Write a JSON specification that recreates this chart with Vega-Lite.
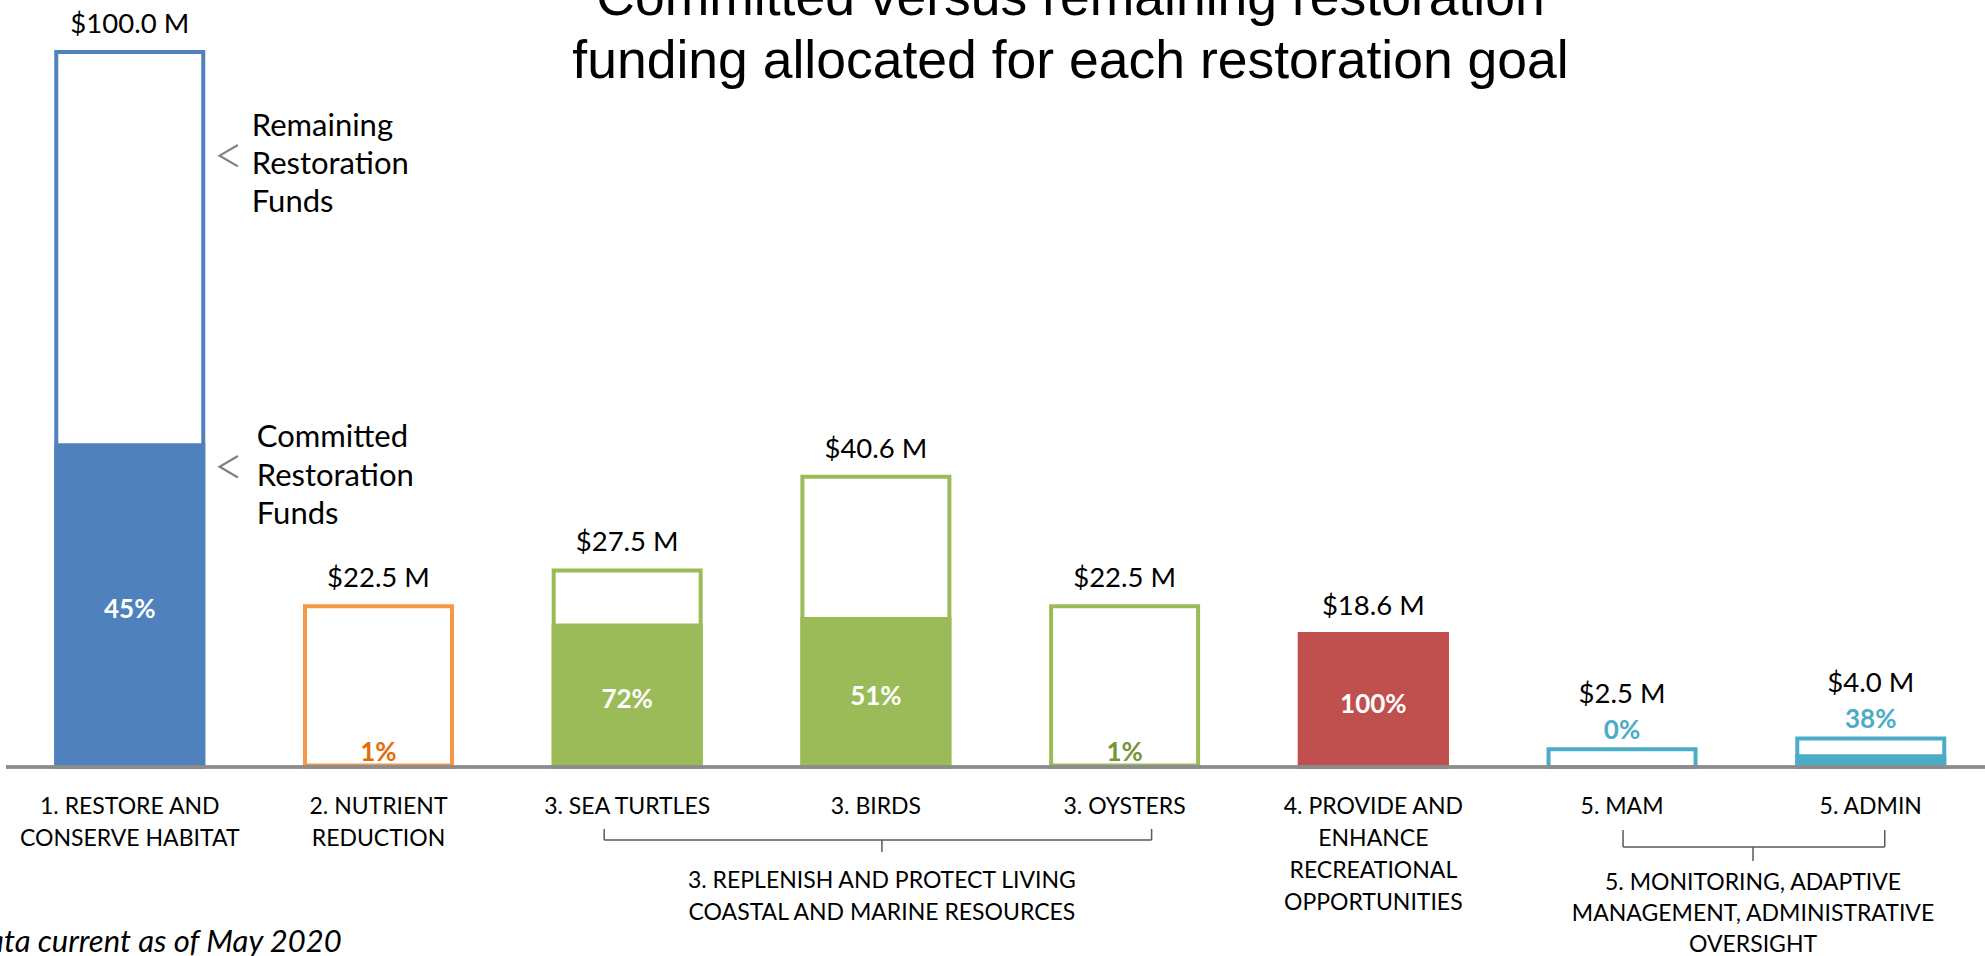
{
  "$schema": "https://vega.github.io/schema/vega-lite/v6.json",
  "autosize": {"type": "none"},
  "width": 1985,
  "height": 715,
  "padding": {"left": 0, "top": 52, "right": 0, "bottom": 189},
  "background": "white",
  "title": {
    "text": ["Committed versus remaining restoration", "funding allocated for each restoration goal"],
    "font": "Liberation Sans",
    "fontSize": 53.5,
    "fontWeight": "normal",
    "color": "#000000",
    "lineHeight": 63,
    "anchor": "middle",
    "dx": 78,
    "offset": -78
  },
  "config": {"view": {"stroke": null}, "font": "Lato"},
  "datasets": {
    "funds": [
      {"cat": "1. RESTORE AND\nCONSERVE HABITAT", "goal": "1", "total": 100.0, "committed": 45.0, "valueLabel": "$100.0 M", "pctLabel": "45%"},
      {"cat": "2. NUTRIENT\nREDUCTION", "goal": "2", "total": 22.5, "committed": 0.2, "valueLabel": "$22.5 M", "pctLabel": "1%"},
      {"cat": "3. SEA TURTLES", "goal": "3", "total": 27.5, "committed": 19.8, "valueLabel": "$27.5 M", "pctLabel": "72%"},
      {"cat": "3. BIRDS", "goal": "3", "total": 40.6, "committed": 20.7, "valueLabel": "$40.6 M", "pctLabel": "51%"},
      {"cat": "3. OYSTERS", "goal": "3", "total": 22.5, "committed": 0.2, "valueLabel": "$22.5 M", "pctLabel": "1%"},
      {"cat": "4. PROVIDE AND\nENHANCE\nRECREATIONAL\nOPPORTUNITIES", "goal": "4", "total": 18.6, "committed": 18.6, "valueLabel": "$18.6 M", "pctLabel": "100%"},
      {"cat": "5. MAM", "goal": "5", "total": 2.5, "committed": 0.0, "valueLabel": "$2.5 M", "pctLabel": "0%"},
      {"cat": "5. ADMIN", "goal": "5", "total": 4.0, "committed": 1.5, "valueLabel": "$4.0 M", "pctLabel": "38%"}
    ],
    "groups": [
      {"group": "3", "from": "3. SEA TURTLES", "to": "3. OYSTERS", "label": "3. REPLENISH AND PROTECT LIVING\nCOASTAL AND MARINE RESOURCES"},
      {"group": "5", "from": "5. MAM", "to": "5. ADMIN", "label": "5. MONITORING, ADAPTIVE\nMANAGEMENT, ADMINISTRATIVE\nOVERSIGHT"}
    ]
  },
  "data": {"name": "funds"},
  "encoding": {
    "x": {
      "field": "cat",
      "type": "nominal",
      "sort": null,
      "title": null,
      "scale": {
        "domain": ["1. RESTORE AND\nCONSERVE HABITAT", "2. NUTRIENT\nREDUCTION", "3. SEA TURTLES", "3. BIRDS", "3. OYSTERS", "4. PROVIDE AND\nENHANCE\nRECREATIONAL\nOPPORTUNITIES", "5. MAM", "5. ADMIN"],
        "paddingInner": 0.409,
        "paddingOuter": 0.195,
        "align": 0.58
      },
      "axis": {
        "title": null,
        "domain": false,
        "ticks": false,
        "labelAngle": 0,
        "labelFont": "Lato",
        "labelFontSize": 23,
        "labelColor": "#000000",
        "labelLineHeight": 32,
        "labelBaseline": "alphabetic",
        "labelPadding": 46,
        "labelLimit": 0,
        "labelOverlap": false,
        "labelExpr": "split(datum.label, '\\n')"
      }
    }
  },
  "layer": [
    {
      "mark": {"type": "bar", "fill": "white", "strokeWidth": 4},
      "encoding": {
        "y": {"field": "total", "type": "quantitative", "scale": {"domain": [0, 100], "nice": false, "zero": true}, "axis": null},
        "stroke": {"field": "goal", "type": "nominal", "legend": null,
          "scale": {"domain": ["1", "2", "3", "4", "5"], "range": ["#4F81BD", "#F79646", "#9BBB59", "#C0504D", "#4BACC6"]}}
      }
    },
    {
      "mark": {"type": "bar", "strokeWidth": 4},
      "encoding": {
        "y": {"field": "committed", "type": "quantitative"},
        "fill": {"field": "goal", "type": "nominal", "legend": null,
          "scale": {"domain": ["1", "2", "3", "4", "5"], "range": ["#4F81BD", "#F79646", "#9BBB59", "#C0504D", "#4BACC6"]}},
        "stroke": {"field": "goal", "type": "nominal", "legend": null}
      }
    },
    {
      "mark": {"type": "rule", "color": "#8c8c8c", "strokeWidth": 2.5},
      "encoding": {
        "x": {"value": 6},
        "x2": {"value": 1985},
        "y": {"datum": 0}
      }
    },
    {
      "transform": [{"filter": "datum.total >= 10"}],
      "mark": {"type": "text", "font": "Lato", "fontSize": 27.5, "color": "#000000", "baseline": "middle", "dy": -27},
      "encoding": {
        "y": {"field": "total", "type": "quantitative"},
        "text": {"field": "valueLabel"}
      }
    },
    {
      "transform": [{"filter": "datum.total < 10"}],
      "mark": {"type": "text", "font": "Lato", "fontSize": 27.5, "color": "#000000", "baseline": "middle", "dy": -54},
      "encoding": {
        "y": {"field": "total", "type": "quantitative"},
        "text": {"field": "valueLabel"}
      }
    },
    {
      "transform": [
        {"filter": "datum.total >= 10 && datum.committed / datum.total >= 0.3"},
        {"calculate": "datum.committed / 2", "as": "mid"}
      ],
      "mark": {"type": "text", "font": "Lato", "fontSize": 26, "fontWeight": "bold", "color": "#ffffff", "baseline": "middle", "dy": 4},
      "encoding": {
        "y": {"field": "mid", "type": "quantitative"},
        "text": {"field": "pctLabel"}
      }
    },
    {
      "transform": [{"filter": "datum.goal == '2'"}],
      "mark": {"type": "text", "font": "Lato", "fontSize": 26, "fontWeight": "bold", "color": "#E46C0A", "baseline": "middle", "dy": -14},
      "encoding": {
        "y": {"datum": 0},
        "text": {"field": "pctLabel"}
      }
    },
    {
      "transform": [{"filter": "datum.cat == '3. OYSTERS'"}],
      "mark": {"type": "text", "font": "Lato", "fontSize": 26, "fontWeight": "bold", "color": "#77933C", "baseline": "middle", "dy": -14},
      "encoding": {
        "y": {"datum": 0},
        "text": {"field": "pctLabel"}
      }
    },
    {
      "transform": [{"filter": "datum.goal == '5'"}],
      "mark": {"type": "text", "font": "Lato", "fontSize": 26, "fontWeight": "bold", "color": "#4BACC6", "baseline": "middle", "dy": -18},
      "encoding": {
        "y": {"field": "total", "type": "quantitative"},
        "text": {"field": "pctLabel"}
      }
    },
    {
      "transform": [{"filter": "datum.goal == '1'"}],
      "mark": {"type": "text", "font": "Lato", "fontSize": 31, "color": "#000000", "align": "left", "baseline": "alphabetic", "lineHeight": 38, "dx": 122},
      "encoding": {
        "y": {"datum": 88.2},
        "text": {"value": ["Remaining", "Restoration", "Funds"]}
      }
    },
    {
      "transform": [{"filter": "datum.goal == '1'"}],
      "mark": {"type": "text", "font": "Lato", "fontSize": 31, "color": "#000000", "align": "left", "baseline": "alphabetic", "lineHeight": 38.5, "dx": 127},
      "encoding": {
        "y": {"datum": 44.7},
        "text": {"value": ["Committed", "Restoration", "Funds"]}
      }
    },
    {
      "transform": [{"filter": "datum.goal == '1'"}],
      "mark": {"type": "point", "shape": "M 0.85 -1 L -0.85 0 L 0.85 1", "filled": false, "size": 462, "stroke": "#808080", "strokeWidth": 2.2, "opacity": 1, "xOffset": 99},
      "encoding": {
        "y": {"datum": 85.5}
      }
    },
    {
      "transform": [{"filter": "datum.goal == '1'"}],
      "mark": {"type": "point", "shape": "M 0.85 -1 L -0.85 0 L 0.85 1", "filled": false, "size": 462, "stroke": "#808080", "strokeWidth": 2.2, "opacity": 1, "xOffset": 99},
      "encoding": {
        "y": {"datum": 42.0}
      }
    },
    {
      "transform": [{"filter": "datum.goal == '1'"}],
      "mark": {"type": "text", "font": "Lato", "fontSize": 31, "fontStyle": "italic", "color": "#000000", "align": "right", "baseline": "alphabetic", "dx": 212},
      "encoding": {
        "y": {"datum": -25.9},
        "text": {"value": "Data current as of May 2020"}
      }
    },
    {
      "data": {"name": "groups"},
      "transform": [{"filter": "datum.group == '3'"}],
      "layer": [
        {
          "mark": {"type": "rule", "color": "#595959", "strokeWidth": 1.5, "xOffset": -23, "x2Offset": 27},
          "encoding": {
            "x": {"field": "from", "type": "nominal", "title": null},
            "x2": {"field": "to"},
            "y": {"datum": -10.21}
          }
        },
        {
          "mark": {"type": "rule", "color": "#595959", "strokeWidth": 1.5, "xOffset": -23},
          "encoding": {
            "x": {"field": "from", "type": "nominal", "title": null},
            "y": {"datum": -8.67},
            "y2": {"datum": -10.21}
          }
        },
        {
          "mark": {"type": "rule", "color": "#595959", "strokeWidth": 1.5, "xOffset": 27},
          "encoding": {
            "x": {"field": "to", "type": "nominal", "title": null},
            "y": {"datum": -8.67},
            "y2": {"datum": -10.21}
          }
        },
        {
          "mark": {"type": "rule", "color": "#595959", "strokeWidth": 1.5},
          "encoding": {
            "x": {"field": "from", "type": "nominal", "title": null, "bandPosition": 2.233},
            "y": {"datum": -10.21},
            "y2": {"datum": -11.89}
          }
        },
        {
          "mark": {"type": "text", "font": "Lato", "fontSize": 23, "color": "#000000", "align": "center", "baseline": "alphabetic", "lineHeight": 32, "lineBreak": "\n"},
          "encoding": {
            "x": {"field": "from", "type": "nominal", "title": null, "bandPosition": 2.233},
            "y": {"datum": -16.9},
            "text": {"field": "label"}
          }
        }
      ]
    },
    {
      "data": {"name": "groups"},
      "transform": [{"filter": "datum.group == '5'"}],
      "layer": [
        {
          "mark": {"type": "rule", "color": "#595959", "strokeWidth": 1.5, "xOffset": 1, "x2Offset": 14},
          "encoding": {
            "x": {"field": "from", "type": "nominal", "title": null},
            "x2": {"field": "to"},
            "y": {"datum": -11.19}
          }
        },
        {
          "mark": {"type": "rule", "color": "#595959", "strokeWidth": 1.5, "xOffset": 1},
          "encoding": {
            "x": {"field": "from", "type": "nominal", "title": null},
            "y": {"datum": -8.81},
            "y2": {"datum": -11.19}
          }
        },
        {
          "mark": {"type": "rule", "color": "#595959", "strokeWidth": 1.5, "xOffset": 14},
          "encoding": {
            "x": {"field": "to", "type": "nominal", "title": null},
            "y": {"datum": -8.81},
            "y2": {"datum": -11.19}
          }
        },
        {
          "mark": {"type": "rule", "color": "#595959", "strokeWidth": 1.5},
          "encoding": {
            "x": {"field": "from", "type": "nominal", "title": null, "bandPosition": 1.391},
            "y": {"datum": -11.19},
            "y2": {"datum": -13.15}
          }
        },
        {
          "mark": {"type": "text", "font": "Lato", "fontSize": 23, "color": "#000000", "align": "center", "baseline": "alphabetic", "lineHeight": 31, "lineBreak": "\n"},
          "encoding": {
            "x": {"field": "from", "type": "nominal", "title": null, "bandPosition": 1.391},
            "y": {"datum": -17.2},
            "text": {"field": "label"}
          }
        }
      ]
    }
  ]
}
